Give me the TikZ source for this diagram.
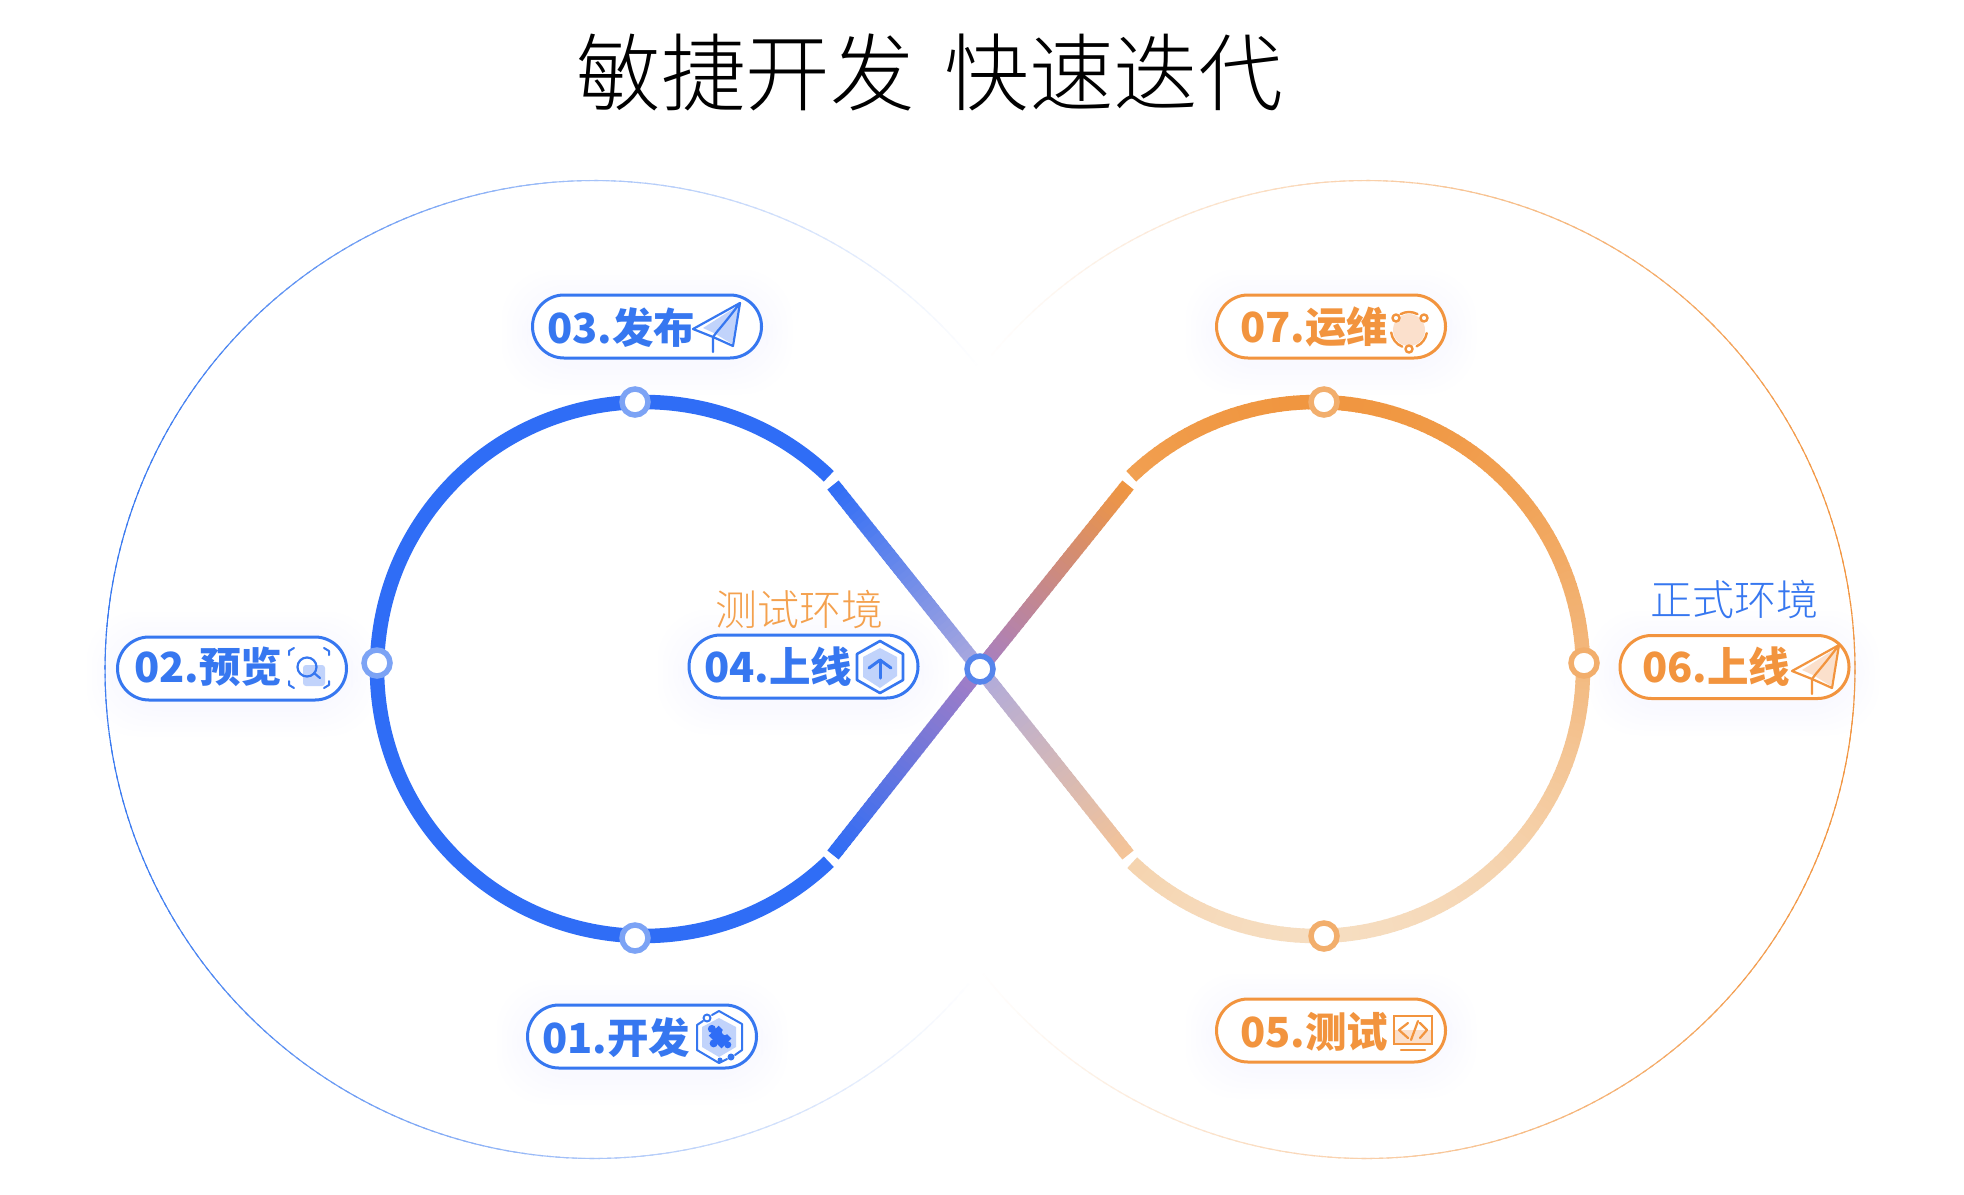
\documentclass[tikz,border=0pt]{standalone}
\usepackage{fontspec}
\usetikzlibrary{calc,shapes.misc}
\newfontfamily\titlef{Noto Sans CJK SC Light}
\newfontfamily\pillf{Noto Sans CJK SC Black}
\definecolor{bl}{HTML}{3677F0}
\definecolor{blarc}{HTML}{2F6DF6}
\definecolor{blring}{HTML}{7CA3F5}
\definecolor{blmid}{HTML}{5585EC}
\definecolor{bllight}{HTML}{C1D3FB}
\definecolor{og}{HTML}{F2943E}
\definecolor{ogarc}{HTML}{F09640}
\definecolor{ogend}{HTML}{F6DDC0}
\definecolor{ogring}{HTML}{F2AE6C}
\definecolor{oglight}{HTML}{FBE0CC}
\definecolor{oglabel}{HTML}{F4A14E}
\definecolor{midA}{HTML}{AEAADD}
\definecolor{endA}{HTML}{F5C497}
\definecolor{midB}{HTML}{A67EC4}
\definecolor{halo}{HTML}{DDE8FF}
\tikzset{
  pill/.style={rounded rectangle,draw=#1,line width=3,fill=white,minimum width=229,minimum height=63,inner sep=0},
  pilltext/.style={anchor=base west,inner sep=0,text=#1,font=\pillf\fontsize{41.5}{42}\selectfont},
  envlabel/.style={inner sep=0,text=#1,font=\titlef\fontsize{42}{42}\selectfont},
  ringnode/.style={circle,draw=#1,line width=5.5,fill=white,minimum size=26,inner sep=0},
  seg/.style={line width=14.5,line cap=butt},
  thinline/.style={line width=#1,line cap=round,line join=round}
}
% gradient straight run between two named points
\newcommand{\gradrun}[4]{%
  \foreach \i in {0,...,39}{%
    \pgfmathsetmacro{\ta}{\i/40}\pgfmathsetmacro{\tb}{min(1,(\i+1.3)/40)}\pgfmathsetmacro{\pc}{100-100*(\i+.5)/40}%
    \draw[seg,color=#3!\pc!#4] ($(#1)!\ta!(#2)$) -- ($(#1)!\tb!(#2)$);
  }}
% large circles
\newcommand{\bigring}[4]{%
  \foreach \a in {#2,...,#3}{%
    \pgfmathsetmacro{\pc}{max(0,min(100,100*((1+#4*cos(\a))/2-.11)/.89))}%
    \draw[line width=1.1,color=#1!\pc!white] ($(#1c)+(\a:489)$) -- ($(#1c)+(\a+1.5:489)$);
  }}
\newcommand{\pillhalo}[2]{%
  \foreach \e in {30,25,20,15,10,5}{%
    \fill[halo,opacity=.018,rounded corners=50] ($(#1,#2)+(-115-\e,-32-\e+6)$) rectangle ($(#1,#2)+(115+\e,32+\e+6)$);
  }}
\newcommand{\planeicon}[5]{% x,y,line,fill
  \begin{scope}[shift={(#1,#2)}]
    \fill[#4] (10,-1) -- (46,-24) -- (39,15) -- (21,4) -- cycle;
    \draw[thinline=2.2,#3] (20,8) -- (0,0) -- (47,-26) -- (40,17) -- (20,8) -- (20,23);
    \draw[thinline=2.2,#3] (20,8) .. controls (24,2) and (28,-1) .. (47,-26);
  \end{scope}}
\begin{document}
\begin{tikzpicture}[x=1pt,y=-1pt]
\useasboundingbox (0,0) rectangle (1964,1194);
\fill[white] (0,0) rectangle (1964,1194);
\coordinate (cL) at (644,669);
\coordinate (cR) at (1316,669);
\coordinate (X) at (980,669);
\coordinate (blc) at (594,669.5);
\coordinate (ogc) at (1366,669.5);
\coordinate (A1) at (833,485);
\coordinate (A2) at (1128,855);
\coordinate (B1) at (833,855);
\coordinate (B2) at (1128,485);

% big circles
\bigring{bl}{38}{321}{-1}
\bigring{og}{218}{501}{1}

% halos
\pillhalo{647}{326}\pillhalo{232}{668}\pillhalo{803}{666}\pillhalo{642}{1036}
\pillhalo{1331}{326}\pillhalo{1331}{1030}\pillhalo{1734}{667}

% left loop
\draw[seg,blarc] ($(cL)+(313.8:267)$) arc[start angle=313.8,end angle=46.2,radius=267];
% right loop
\foreach \a in {226.2,227.7,...,492}{
  \pgfmathsetmacro{\pc}{100-100*(1+sin(\a+.75))/2}
  \draw[seg,color=ogarc!\pc!ogend] ($(cR)+(\a:267)$) -- ($(cR)+(\a+1.8:267)$);
}
% crossing lines
\gradrun{A1}{X}{blarc}{midA}
\gradrun{X}{A2}{midA}{endA}
\gradrun{B1}{X}{blarc}{midB}
\gradrun{X}{B2}{midB}{ogarc}

% ring nodes
\node[ringnode=blring] (n3) at (635,402) {};
\node[ringnode=blring] (n2) at (377,663) {};
\node[ringnode=blring] (n1) at (635,938) {};
\node[ringnode=blmid] (n4) at (X) {};
\node[ringnode=ogring] (n7) at (1324,402) {};
\node[ringnode=ogring] (n6) at (1584,663) {};
\node[ringnode=ogring] (n5) at (1324,936) {};

% title
\node[inner sep=0,font=\titlef\fontsize{84.5}{86}\selectfont,text=black] (title) at (929.5,72) {敏捷开发\hspace{30pt}快速迭代};
\node[envlabel=oglabel] (env1) at (799,609) {测试环境};
\node[envlabel=bl] (env2) at (1734,599) {正式环境};

% pills
\node[pill=bl] (p3) at (647,326.5) {};
\node[pill=bl] (p2) at (232,668.5) {};
\node[pill=bl] (p4) at (803.5,666.5) {};
\node[pill=bl] (p1) at (642,1036.5) {};
\node[pill=og] (p7) at (1331,326.5) {};
\node[pill=og] (p5) at (1331,1030.5) {};
\node[pill=og] (p6) at (1734.5,667) {};
\node[pilltext=bl] (t3) at (547,343) {03.发布};
\node[pilltext=bl] (t2) at (134,682) {02.预览};
\node[pilltext=bl] (t4) at (704,682) {04.上线};
\node[pilltext=bl] (t1) at (542,1053) {01.开发};
\node[pilltext=og] (t7) at (1240,342) {07.运维};
\node[pilltext=og] (t5) at (1240,1047) {05.测试};
\node[pilltext=og] (t6) at (1642,682) {06.上线};

% icons
\planeicon{693}{329}{bl}{bllight}{}
\planeicon{1792}{671}{og}{oglight}{}

% search icon
\fill[bllight,rounded corners=3] (303,665) rectangle (325,686);
\draw[thinline=2,bl] (289,655) -- (289,651) -- (294,648);
\draw[thinline=2,bl] (324,648) -- (329,651) -- (329,655);
\draw[thinline=2,bl] (289,681) -- (289,685) -- (294,688);
\draw[thinline=2,bl] (324,688) -- (329,685) -- (329,681);
\draw[thinline=2.2,bl] (307,667) circle[radius=9.5];
\draw[thinline=2.2,bl] (314,673) -- (320,678);

% upload hexagon
\fill[bllight] (880,648) -- (897,657) -- (897,676) -- (880,688) -- (863,677) -- (863,657) -- cycle;
\draw[thinline=2.6,bl] (880,641) -- (903,654) -- (903,680) -- (880,693) -- (857,680) -- (857,654) -- cycle;
\draw[thinline=3,bl] (880,678) -- (880,660);
\draw[thinline=3,bl] (869,668) -- (880,660) -- (891,668);

% puzzle hexagon
\fill[bllight] (719,1018) -- (736,1027) -- (736,1047) -- (719,1057) -- (702,1047) -- (702,1027) -- cycle;
\draw[thinline=2,bl] (712,1015) -- (719,1011) -- (742,1024) -- (742,1050) -- (735,1055);
\draw[thinline=2,bl] (727,1059) -- (719,1063) -- (697,1050) -- (697,1025) -- (703,1021);
\draw[thinline=2,bl,fill=white] (707,1018) circle[radius=3.5];
\fill[bl] (731,1057) circle[radius=3.5];
\fill[bl] (720,1060) circle[radius=2.5];
\begin{scope}[shift={(720,1037)},rotate=-45]
  \fill[blarc] (-9,-7) rectangle (9,7);
  \fill[blarc] (-11.5,0) circle[radius=4];
  \fill[blarc] (0,9) circle[radius=4];
  \fill[bllight] (0,-7) circle[radius=3];
  \fill[blarc] (11,0) circle[radius=3.5];
\end{scope}

% ops icon
\fill[oglight] (1409,330) circle[radius=16];
\draw[thinline=2.4,og] ($(1409,330)+(-118:18)$) arc[start angle=-118,end angle=-62,radius=18];
\draw[thinline=2.4,og] ($(1409,330)+(172:18)$) arc[start angle=172,end angle=112,radius=18];
\draw[thinline=2.4,og] ($(1409,330)+(10:18)$) arc[start angle=10,end angle=65,radius=18];
\draw[thinline=2.4,og,fill=white] (1396,318) circle[radius=3.5];
\draw[thinline=2.4,og,fill=white] (1424,318) circle[radius=3.5];
\draw[thinline=2.4,og,fill=white] (1409,349) circle[radius=3.5];

% code icon
\fill[oglight] (1394,1030) rectangle (1431,1043);
\draw[thinline=2.4,og,line join=miter] (1394,1016) rectangle (1432,1044);
\draw[thinline=2.4,og] (1401,1050) -- (1425,1050);
\draw[thinline=2.2,og] (1408,1023) -- (1399,1030) -- (1408,1038);
\draw[thinline=2.2,og] (1418,1021) -- (1411,1040);
\draw[thinline=2.2,og] (1420,1023) -- (1427,1030) -- (1420,1038);
\end{tikzpicture}
\end{document}
